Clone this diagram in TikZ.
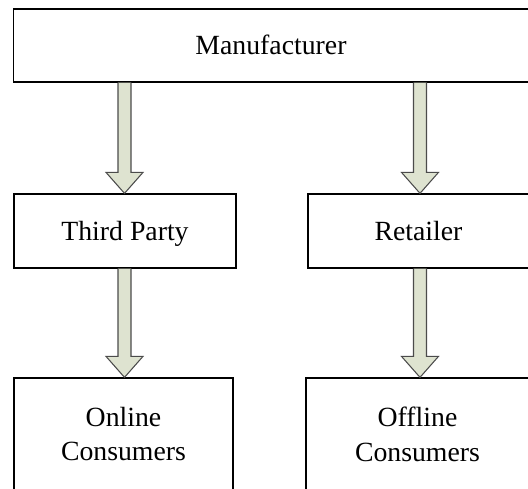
\documentclass[tikz,border=0pt]{standalone}
\usepackage{fontspec}
\setmainfont{Liberation Serif}
\usetikzlibrary{calc}
\definecolor{arrfill}{RGB}{222,227,208}
\definecolor{arrdraw}{RGB}{75,75,75}
\tikzset{
  box/.style = {draw=black, line width=0.75pt, align=center, inner sep=0pt,
    font=\fontsize{15.8}{19.9}\selectfont},
  onerow/.style = {box, text height=11pt, text depth=0.6pt},
  fat_arr/.style = {draw=arrdraw, fill=arrfill, line width=0.6pt, line join=miter}
}
% block arrow from #1 (top) to #2 (tip)
\newcommand{\fatarrow}[2]{%
  \draw[fat_arr] ($(#1)+(-6.5,0)$) -- ($(#2)+(-6.5,-21)$) -- ($(#2)+(-18.5,-21)$)
    -- (#2) -- ($(#2)+(18.5,-21)$) -- ($(#2)+(6.5,-21)$) -- ($(#1)+(6.5,0)$);}

\begin{document}
\begin{tikzpicture}[x=0.02cm,y=-0.02cm]
\useasboundingbox (0,0) rectangle (528,488);
\clip (0,0) rectangle (528,488);

\node[onerow, minimum width=10.3cm, minimum height=1.46cm] (mfr) at (271,45.5) {Manufacturer};
\node[onerow, minimum width=4.44cm, minimum height=1.48cm] (tp) at (125,231) {Third Party};
\node[onerow, minimum width=4.42cm, minimum height=1.48cm] (rt) at (418.5,231) {Retailer};
\node[box, minimum width=4.38cm, minimum height=2.24cm] (on) at (123.5,434) {Online\\Consumers};
\node[box, minimum width=4.46cm, minimum height=2.24cm] (off) at (417.5,434) {Offline\\Consumers};

\coordinate (lx) at (124.5,0);
\coordinate (rx) at (420,0);

\fatarrow{mfr.south -| lx}{tp.north -| lx}
\fatarrow{mfr.south -| rx}{rt.north -| rx}
\fatarrow{tp.south -| lx}{on.north -| lx}
\fatarrow{rt.south -| rx}{off.north -| rx}

\end{tikzpicture}
\end{document}
